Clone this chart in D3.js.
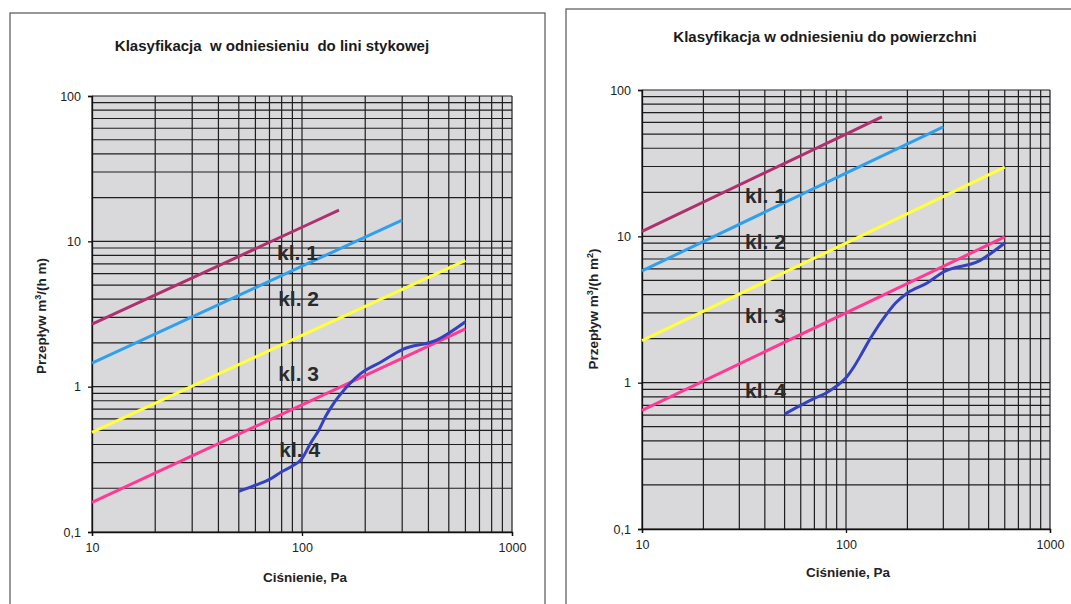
<!doctype html>
<html lang="pl">
<head>
<meta charset="UTF-8">
<title>Klasyfikacja</title>
<script src="https://d3js.org/d3.v7.min.js"></script>
<style>
body { margin: 0; background-color: #ffffff; font-family: "Liberation Sans", Arial, sans-serif; }
svg { display: block; }
.axis path, .axis line { stroke: #111; stroke-width: 1.3; }
.axis text { font-family: "Liberation Sans", Arial, sans-serif; font-size: 12.5px; fill: #222; }
.grid line { stroke: #1e1e1e; stroke-width: 1.2; }
.title { font-weight: bold; font-size: 15px; fill: #1a1a1a; text-anchor: middle; white-space: pre; }
.label { font-weight: bold; font-size: 13.5px; fill: #222; text-anchor: middle; }
.klasa { font-weight: bold; font-size: 21px; fill: #2a2a2a; }
</style>
</head>
<body>
<div id="plot"></div>
<script>

var width = 1071;
var height = 604;

// axes
var pressureTicks = [10, 100, 1000];
var flowTicks = [0.1, 1, 10, 100];
var pressureGrid = [10, 20, 30, 40, 50, 60, 70, 80, 90, 100, 200, 300, 400, 500, 600, 700, 800, 900, 1000];
var flowGrid = [0.1, 0.2, 0.3, 0.4, 0.5, 0.6, 0.7, 0.8, 0.9, 1, 2, 3, 4, 5, 6, 7, 8, 9,
	10, 20, 30, 40, 50, 60, 70, 80, 90, 100];

var classNames = ["kl. 1", "kl. 2", "kl. 3", "kl. 4"];
var classColors = ["#b0306e", "#2fa0ee", "#ffff3a", "#ff3a94"];
var testColor = "#3441c0";

// left: per joint length, m3/(h m)  [pressure Pa, flow]
var jointKl1 = [[10, 2.69], [100, 12.5], [150, 16.4]];
var jointKl2 = [[10, 1.45], [100, 6.75], [300, 14.0]];
var jointKl3 = [[10, 0.485], [100, 2.25], [600, 7.4]];
var jointKl4 = [[10, 0.16], [100, 0.75], [600, 2.5]];
var jointTest = [[50, 0.19], [60, 0.21], [70, 0.23], [80, 0.26], [90, 0.285], [100, 0.32],
	[110, 0.41], [120, 0.50], [130, 0.63], [140, 0.75], [150, 0.86], [170, 1.06],
	[190, 1.23], [240, 1.49], [300, 1.8], [440, 2.1], [600, 2.8]];
var jointLabelAt = [[76, 7.4], [77, 3.6], [77, 1.09], [78, 0.33]];

// right: per area, m3/(h m2)
var areaKl1 = [[10, 10.8], [100, 50], [150, 65.5]];
var areaKl2 = [[10, 5.8], [100, 27], [300, 56]];
var areaKl3 = [[10, 1.94], [100, 9], [600, 29.7]];
var areaKl4 = [[10, 0.646], [100, 3], [600, 9.9]];
var areaTest = [[50, 0.61], [60, 0.70], [70, 0.78], [80, 0.85], [90, 0.95], [100, 1.08],
	[110, 1.3], [120, 1.6], [130, 1.95], [140, 2.3], [150, 2.65], [175, 3.5],
	[200, 4.1], [250, 4.8], [300, 5.7], [450, 6.8], [600, 9.0]];
var areaLabelAt = [[32, 16.8], [32, 8.15], [32, 2.55], [32, 0.78]];

var svg = d3.select("#plot").append("svg")
	.attr("width", width)
	.attr("height", height);

function drawChart(opt) {
	// frame
	svg.append("rect")
		.attr("x", opt.frame[0]).attr("y", opt.frame[1])
		.attr("width", opt.frame[2]).attr("height", opt.frame[3])
		.style("fill", "none").style("stroke", "#555").style("stroke-width", 1.2);

	var x = d3.scaleLog().domain([10, 1000]).range([opt.left, opt.right]);
	var y = d3.scaleLog().domain([0.1, 100]).range([opt.bottom, opt.top]);

	svg.append("rect")
		.attr("x", opt.left).attr("y", opt.top)
		.attr("width", opt.right - opt.left).attr("height", opt.bottom - opt.top)
		.style("fill", "#d9d9dc");

	var grid = svg.append("g").attr("class", "grid");
	pressureGrid.forEach(function (p) {
		grid.append("line")
			.attr("x1", x(p)).attr("x2", x(p))
			.attr("y1", opt.top).attr("y2", opt.bottom);
	});
	flowGrid.forEach(function (f) {
		grid.append("line")
			.attr("x1", opt.left).attr("x2", opt.right)
			.attr("y1", y(f)).attr("y2", y(f));
	});

	svg.append("g")
		.attr("class", "axis")
		.attr("transform", "translate(" + opt.left + ",0)")
		.call(d3.axisLeft(y).tickValues(flowTicks).tickSizeOuter(0).tickSize(4).tickPadding(7)
			.tickFormat(function (d) { return String(d).replace(".", ","); }));

	svg.append("g")
		.attr("class", "axis")
		.attr("transform", "translate(0," + opt.bottom + ")")
		.call(d3.axisBottom(x).tickValues(pressureTicks).tickSizeOuter(0).tickSize(4).tickPadding(7)
			.tickFormat(d3.format("d")));

	var line = d3.line()
		.x(function (d) { return x(d[0]); })
		.y(function (d) { return y(d[1]); });

	opt.classes.forEach(function (s, i) {
		svg.append("path")
			.attr("d", line(s))
			.style("fill", "none")
			.style("stroke", classColors[i])
			.style("stroke-width", 3);
	});

	svg.append("path")
		.attr("d", line.curve(d3.curveMonotoneX)(opt.test))
		.style("fill", "none")
		.style("stroke", testColor)
		.style("stroke-width", 3);

	classNames.forEach(function (name, i) {
		svg.append("text")
			.attr("class", "klasa")
			.attr("x", x(opt.labelAt[i][0]))
			.attr("y", y(opt.labelAt[i][1]))
			.text(name);
	});

	svg.append("text")
		.attr("class", "title")
		.attr("x", opt.titleX).attr("y", opt.titleY)
		.text(opt.title);

	svg.append("text")
		.attr("class", "label")
		.attr("x", opt.xLabelX)
		.attr("y", opt.xLabelY)
		.text("Ciśnienie, Pa");

	var yl = svg.append("text")
		.attr("class", "label")
		.attr("transform", "translate(" + opt.yLabelX + "," + opt.yLabelY + ") rotate(-90)");
	yl.append("tspan").text(opt.yLabel[0]);
	yl.append("tspan").attr("dy", -5).style("font-size", "9px").text(opt.yLabel[1]);
	yl.append("tspan").attr("dy", 5).text(opt.yLabel[2]);
	if (opt.yLabel[3]) {
		yl.append("tspan").attr("dy", -5).style("font-size", "9px").text(opt.yLabel[3]);
		yl.append("tspan").attr("dy", 5).text(opt.yLabel[4]);
	}
}

drawChart({
	frame: [10, 13, 535, 610],
	left: 92, right: 512, top: 96, bottom: 532,
	classes: [jointKl1, jointKl2, jointKl3, jointKl4],
	test: jointTest,
	labelAt: jointLabelAt,
	title: "Klasyfikacja  w odniesieniu  do lini stykowej",
	titleX: 272, titleY: 51,
	xLabelX: 305, xLabelY: 582,
	yLabel: ["Przepływ m", "3", "/(h m)"],
	yLabelX: 46, yLabelY: 316
});

drawChart({
	frame: [566, 9, 520, 610],
	left: 642, right: 1050, top: 90, bottom: 529,
	classes: [areaKl1, areaKl2, areaKl3, areaKl4],
	test: areaTest,
	labelAt: areaLabelAt,
	title: "Klasyfikacja w odniesieniu do powierzchni",
	titleX: 825, titleY: 42,
	xLabelX: 848, xLabelY: 577,
	yLabel: ["Przepływ m", "3", "/(h m", "2", ")"],
	yLabelX: 598, yLabelY: 309
});

</script>
</body>
</html>
